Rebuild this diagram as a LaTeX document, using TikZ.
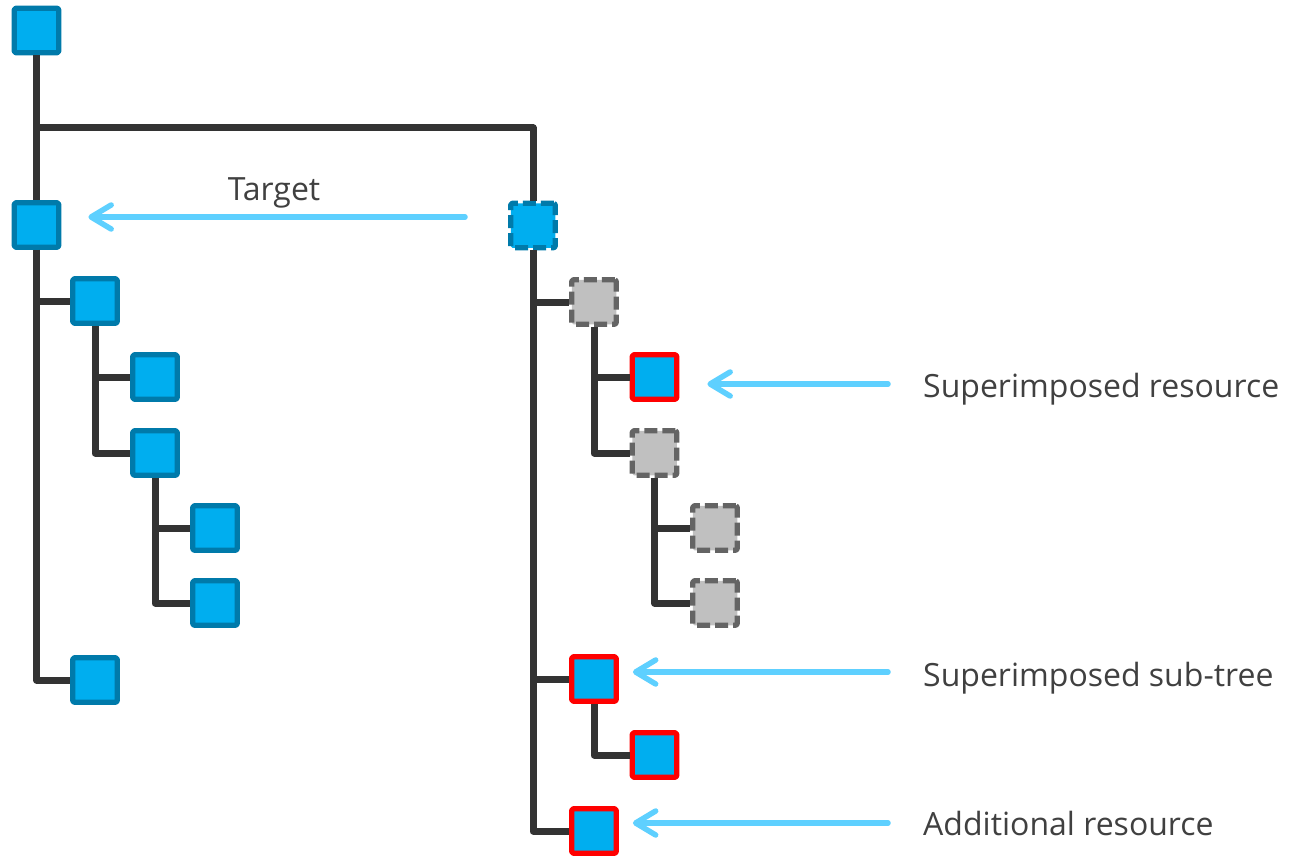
\documentclass[tikz,border=0pt]{standalone}
\usepackage{fontspec}
\setmainfont{Open Sans}
\usetikzlibrary{arrows.meta}
\usetikzlibrary{positioning}

\definecolor{nodefill}{RGB}{0,174,239}
\definecolor{nodeborder}{RGB}{0,122,170}
\definecolor{ghostfill}{RGB}{192,192,192}
\definecolor{ghostborder}{RGB}{100,100,100}
\definecolor{treegray}{RGB}{51,51,51}
\definecolor{pointer}{RGB}{94,208,255}
\definecolor{textgray}{RGB}{64,64,64}

\begin{document}
\begin{tikzpicture}[x=1pt,y=-1pt,line join=round,
	main node/.style={rectangle,draw=nodeborder,fill=nodefill,line width=5.3pt,
		minimum size=44.5pt,inner sep=0pt,rounded corners=1.5pt},
	red node/.style={main node,draw=red},
	ghost node/.style={main node,draw=ghostborder,fill=ghostfill,dash pattern=on 13pt off 5pt},
	moved node/.style={main node,dash pattern=on 13pt off 5pt},
	branch/.style={draw=treegray,line width=7pt},
	pointer line/.style={draw=pointer,line width=5.5pt,line cap=round,
		-{Straight Barb[length=20pt,width=24pt,round]}},
	label text/.style={text=textgray,font=\fontsize{32}{40}\selectfont,inner sep=0pt}]

	\useasboundingbox (0,0) rectangle (1295,856);

	% left tree
	\node[main node] (root) at (36.5,30.5) {};
	\node[main node] (tg) at (36.5,225) {};
	\node[main node] (l1) at (95,301) {};
	\node[main node] (l11) at (155,377) {};
	\node[main node] (l12) at (155,453) {};
	\node[main node] (l121) at (215,528) {};
	\node[main node] (l122) at (215,603) {};
	\node[main node] (l2) at (95,680) {};

	% right tree
	\node[moved node] (mv) at (533,225.5) {};
	\node[ghost node] (g1) at (594,302) {};
	\node[red node] (sr) at (654.5,377) {};
	\node[ghost node] (g2) at (654.5,453) {};
	\node[ghost node] (g21) at (715,528) {};
	\node[ghost node] (g22) at (715,603) {};
	\node[red node] (st) at (594,679) {};
	\node[red node] (st1) at (654.5,755) {};
	\node[red node] (ad) at (594,831) {};

	\coordinate (split) at (36.5,128);

	\draw[branch] (root) -- (tg);
	\draw[branch] (split) -| (mv);
	\draw[branch] (tg) |- (l1);
	\draw[branch] (tg) |- (l2);
	\draw[branch] (l1) |- (l11);
	\draw[branch] (l1) |- (l12);
	\draw[branch] (l12) |- (l121);
	\draw[branch] (l12) |- (l122);

	\draw[branch] (mv) |- (g1);
	\draw[branch] (mv) |- (st);
	\draw[branch] (mv) |- (ad);
	\draw[branch] (g1) |- (sr);
	\draw[branch] (g1) |- (g2);
	\draw[branch] (g2) |- (g21);
	\draw[branch] (g2) |- (g22);
	\draw[branch] (st) |- (st1);

	% labels and pointers
	\node[label text,anchor=base] (tgtext) at (274,200) {Target};
	\node[label text,anchor=base west] (srtext) at (923,397) {Superimposed resource};
	\node[label text,anchor=base west] (sttext) at (923,686) {Superimposed sub-tree};
	\node[label text,anchor=base west] (adtext) at (923,835) {Additional resource};

	\coordinate (tgtail) at (465,217);
	\coordinate (srtail) at (888,384);
	\coordinate (sttail) at (888,672);
	\coordinate (adtail) at (888,823);

	\draw[pointer line,shorten >=27pt] (tgtail) -- (tgtail -| tg.east);
	\draw[pointer line,shorten >=28pt] (srtail) -- (srtail -| sr.east);
	\draw[pointer line,shorten >=14pt] (sttail) -- (sttail -| st.east);
	\draw[pointer line,shorten >=14pt] (adtail) -- (adtail -| ad.east);
\end{tikzpicture}
\end{document}
